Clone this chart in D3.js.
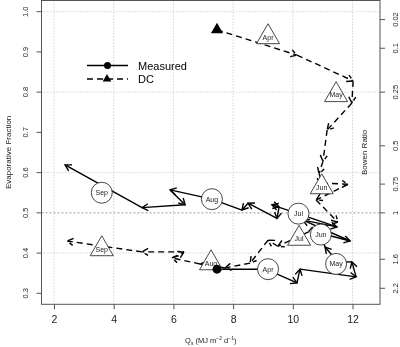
<!DOCTYPE html>
<html>
<head>
<meta charset="utf-8">
<script src="https://cdn.jsdelivr.net/npm/d3@7"></script>
<style>
  body { margin: 0; background: white; }
  #chart { will-change: transform; }
  text { font-family: "Liberation Sans", Arial, sans-serif; -webkit-font-smoothing: antialiased; }
</style>
</head>
<body>
<svg id="chart" width="400" height="347"></svg>
<script>
// weekly trajectories (net radiation, evaporative fraction)
const measuredQ  = [7.46, 9.10, 10.14, 10.24, 12.12, 11.98, 11.51, 11.08, 10.91, 11.92, 10.34, 11.48, 10.17, 9.30, 9.54, 9.47, 8.50, 8.30, 7.29, 5.89, 6.39, 4.95, 2.37];
const measuredEF = [0.360, 0.360, 0.326, 0.360, 0.341, 0.378, 0.378, 0.415, 0.450, 0.430, 0.482, 0.465, 0.498, 0.520, 0.515, 0.486, 0.524, 0.507, 0.534, 0.557, 0.520, 0.513, 0.619];

const dcQ  = [7.46, 10.14, 12.02, 11.98, 11.15, 11.01, 10.88, 10.98, 11.85, 10.78, 11.51, 10.51, 9.50, 9.17, 8.57, 7.73, 6.89, 5.95, 6.36, 4.95, 2.44];
const dcEF = [0.955, 0.892, 0.828, 0.773, 0.706, 0.628, 0.597, 0.574, 0.571, 0.532, 0.477, 0.452, 0.417, 0.432, 0.375, 0.363, 0.373, 0.388, 0.403, 0.403, 0.430];

// monthly means used as labels
const months = ['Apr', 'May', 'Jun', 'Jul', 'Aug', 'Sep'];
const measuredMonthQ  = [9.17, 11.45, 10.94, 10.19, 7.29, 3.60];
const measuredMonthEF = [0.360, 0.373, 0.446, 0.498, 0.534, 0.550];
const dcMonthQ  = [9.17, 11.45, 10.97, 10.21, 7.26, 3.60];
const dcMonthEF = [0.937, 0.793, 0.564, 0.436, 0.375, 0.410];

const xTicks = [2, 4, 6, 8, 10, 12];
const yTicks = [0.3, 0.4, 0.5, 0.6, 0.7, 0.8, 0.9, 1.0];
const gridY = [0.4, 0.6, 0.8, 1.0];
const bowenTicks = [0.02, 0.1, 0.25, 0.5, 0.75, 1, 1.6, 2.2];
const bowenLabels = ['0.02', '0.1', '0.25', '0.5', '0.75', '1', '1.6', '2.2'];

const svg = d3.select('#chart');

const plotLeft = 41.5, plotRight = 380, plotTop = 0.5, plotBottom = 304.3;

const x = d3.scaleLinear()
    .domain([1.581, 12.921])
    .range([plotLeft, plotRight]);

const y = d3.scaleLinear()
    .domain([0.2727, 1.0278])
    .range([plotBottom, plotTop]);

const gridColor = '#bdbdbd';
const axisColor = '#555';

// grid

const grid = svg.append('g').attr('class', 'grid');

grid.selectAll('.x-grid-line')
  .data(xTicks)
  .join('line')
    .attr('class', 'x-grid-line')
    .attr('stroke', gridColor)
    .attr('stroke-dasharray', '1,2')
    .attr('x1', d => x(d))
    .attr('x2', d => x(d))
    .attr('y1', plotTop)
    .attr('y2', plotBottom);

grid.selectAll('.y-grid-line')
  .data(gridY)
  .join('line')
    .attr('class', 'y-grid-line')
    .attr('stroke', gridColor)
    .attr('stroke-dasharray', '1,2')
    .attr('x1', plotLeft)
    .attr('x2', plotRight)
    .attr('y1', d => y(d))
    .attr('y2', d => y(d));

// bowen ratio of one
grid.append('line')
    .attr('stroke', '#999')
    .attr('stroke-dasharray', '2,2')
    .attr('x1', plotLeft)
    .attr('x2', plotRight)
    .attr('y1', y(0.5))
    .attr('y2', y(0.5));

// axes

const xAxis = d3.axisBottom(x)
    .tickValues(xTicks)
    .tickSize(5)
    .tickFormat(d3.format('d'));

const yAxis = d3.axisLeft(y)
    .tickValues(yTicks)
    .tickSize(5)
    .tickFormat(d3.format('.1f'));

const bowenAxis = d3.axisRight(y)
    .tickValues(bowenTicks.map(b => 1 / (1 + b)))
    .tickSize(5)
    .tickFormat((d, i) => bowenLabels[i]);

svg.append('g')
    .attr('transform', `translate(0, ${plotBottom})`)
    .call(xAxis)
    .call(g => g.select('.domain').remove())
    .call(g => g.selectAll('line').attr('stroke', axisColor))
    .call(g => g.selectAll('text')
        .attr('font-size', 10.5)
        .attr('fill', '#222')
        .attr('y', 11));

svg.append('g')
    .attr('transform', `translate(${plotLeft}, 0)`)
    .call(yAxis)
    .call(g => g.select('.domain').remove())
    .call(g => g.selectAll('.tick').attr('transform', null))
    .call(g => g.selectAll('line')
        .attr('stroke', axisColor)
        .attr('y1', d => y(d))
        .attr('y2', d => y(d)))
    .call(g => g.selectAll('text')
        .attr('font-size', 7.5)
        .attr('fill', '#222')
        .attr('x', null)
        .attr('y', null)
        .attr('dy', null)
        .attr('text-anchor', 'middle')
        .attr('dominant-baseline', 'central')
        .attr('transform', d => `translate(${25 - plotLeft}, ${y(d)}) rotate(-90)`));

svg.append('g')
    .attr('transform', `translate(${plotRight}, 0)`)
    .call(bowenAxis)
    .call(g => g.select('.domain').remove())
    .call(g => g.selectAll('.tick').attr('transform', null))
    .call(g => g.selectAll('line')
        .attr('stroke', axisColor)
        .attr('y1', d => y(d))
        .attr('y2', d => y(d)))
    .call(g => g.selectAll('text')
        .attr('font-size', 7.5)
        .attr('fill', '#222')
        .attr('x', null)
        .attr('y', null)
        .attr('dy', null)
        .attr('text-anchor', 'middle')
        .attr('dominant-baseline', 'central')
        .attr('transform', d => `translate(${395 - plotRight}, ${y(d)}) rotate(-90)`));

svg.append('rect')
    .attr('x', plotLeft)
    .attr('y', plotTop)
    .attr('width', plotRight - plotLeft)
    .attr('height', plotBottom - plotTop)
    .attr('fill', 'none')
    .attr('stroke', axisColor);

// axis titles

svg.append('text')
    .attr('transform', `translate(8, ${(plotTop + plotBottom) / 2}) rotate(-90)`)
    .attr('text-anchor', 'middle')
    .attr('dominant-baseline', 'central')
    .attr('font-size', 8)
    .attr('fill', '#222')
    .text('Evaporative Fraction');

svg.append('text')
    .attr('transform', `translate(364, ${(plotTop + plotBottom) / 2}) rotate(-90)`)
    .attr('text-anchor', 'middle')
    .attr('dominant-baseline', 'central')
    .attr('font-size', 8)
    .attr('fill', '#222')
    .text('Bowen Ratio');

const xTitle = svg.append('text')
    .attr('x', (plotLeft + plotRight) / 2)
    .attr('y', 343)
    .attr('text-anchor', 'middle')
    .attr('font-size', 7.5)
    .attr('fill', '#222');
xTitle.append('tspan').text('Q');
xTitle.append('tspan').attr('font-size', 5).attr('dy', 1.5).text('s');
xTitle.append('tspan').attr('dy', -1.5).text(' (MJ m');
xTitle.append('tspan').attr('font-size', 5).attr('dy', -3).text('\u22122');
xTitle.append('tspan').attr('dy', 3).text(' d');
xTitle.append('tspan').attr('font-size', 5).attr('dy', -3).text('\u22121');
xTitle.append('tspan').attr('dy', 3).text(')');

// trajectories with an arrow on every step

function segments(qs, efs) {
  return qs.slice(1).map((q, i) => ({
    x0: x(qs[i]), y0: y(efs[i]), x1: x(q), y1: y(efs[i + 1])
  }));
}

function head(d) {
  const a = Math.atan2(d.y1 - d.y0, d.x1 - d.x0);
  const len = 7, spread = Math.PI / 6;
  const p1 = [d.x1 - len * Math.cos(a - spread), d.y1 - len * Math.sin(a - spread)];
  const p2 = [d.x1 - len * Math.cos(a + spread), d.y1 - len * Math.sin(a + spread)];
  return `M${p1}L${d.x1},${d.y1}L${p2}`;
}

function drawTrack(data, dash, width) {
  const g = svg.append('g').attr('class', 'track');
  g.selectAll('line')
    .data(data)
    .join('line')
      .attr('x1', d => d.x0)
      .attr('y1', d => d.y0)
      .attr('x2', d => d.x1)
      .attr('y2', d => d.y1)
      .attr('stroke', 'black')
      .attr('stroke-width', width)
      .attr('stroke-dasharray', dash);
  g.selectAll('path')
    .data(data)
    .join('path')
      .attr('d', head)
      .attr('fill', 'none')
      .attr('stroke', 'black')
      .attr('stroke-width', width)
      .attr('stroke-dasharray', dash);
}

drawTrack(segments(dcQ, dcEF), '6,4', 1.4);
drawTrack(segments(measuredQ, measuredEF), null, 1.4);

// month labels

const tri = r => `M0,${-r}L${0.866 * r},${r / 2}L${-0.866 * r},${r / 2}Z`;

const dcLabels = svg.append('g')
  .selectAll('g')
  .data(months)
  .join('g')
    .attr('transform', (d, i) => `translate(${x(dcMonthQ[i])}, ${y(dcMonthEF[i])})`);

dcLabels.append('path')
    .attr('d', tri(13.3))
    .attr('fill', 'white')
    .attr('stroke', '#333')
    .attr('stroke-width', 0.9);

dcLabels.append('text')
    .attr('text-anchor', 'middle')
    .attr('dominant-baseline', 'central')
    .attr('font-size', 7)
    .attr('fill', '#222')
    .text(d => d);

const measuredLabels = svg.append('g')
  .selectAll('g')
  .data(months)
  .join('g')
    .attr('transform', (d, i) => `translate(${x(measuredMonthQ[i])}, ${y(measuredMonthEF[i])})`);

measuredLabels.append('circle')
    .attr('r', 10.5)
    .attr('fill', 'white')
    .attr('stroke', '#333')
    .attr('stroke-width', 0.9);

measuredLabels.append('text')
    .attr('text-anchor', 'middle')
    .attr('dominant-baseline', 'central')
    .attr('font-size', 7)
    .attr('fill', '#222')
    .text(d => d);

// start markers

svg.append('circle')
    .attr('cx', x(measuredQ[0]))
    .attr('cy', y(measuredEF[0]))
    .attr('r', 4.5)
    .attr('fill', 'black');

svg.append('path')
    .attr('transform', `translate(${x(dcQ[0])}, ${y(dcEF[0])})`)
    .attr('d', tri(7))
    .attr('fill', 'black');

// legend

const legend = svg.append('g').attr('transform', 'translate(87, 65.5)');

legend.append('line')
    .attr('x1', 0).attr('x2', 41)
    .attr('stroke', 'black')
    .attr('stroke-width', 1.4);
legend.append('circle')
    .attr('cx', 20.5)
    .attr('r', 3.5)
    .attr('fill', 'black');
legend.append('text')
    .attr('x', 51)
    .attr('dominant-baseline', 'central')
    .attr('font-size', 11)
    .text('Measured');

legend.append('line')
    .attr('x1', 0).attr('x2', 41)
    .attr('y1', 13.5).attr('y2', 13.5)
    .attr('stroke', 'black')
    .attr('stroke-width', 1.4)
    .attr('stroke-dasharray', '6,4');
legend.append('path')
    .attr('transform', 'translate(20, 13.5)')
    .attr('d', tri(5))
    .attr('fill', 'black');
legend.append('text')
    .attr('x', 51)
    .attr('y', 13.5)
    .attr('dominant-baseline', 'central')
    .attr('font-size', 11)
    .text('DC');
</script>
</body>
</html>
